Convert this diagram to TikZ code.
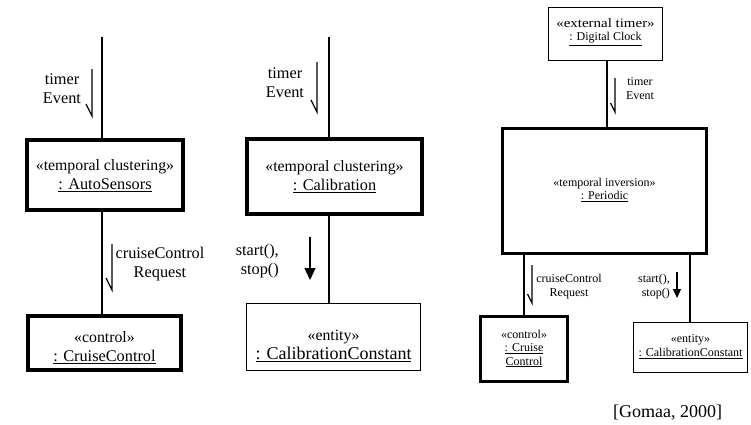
\documentclass[tikz,border=0pt]{standalone}
\usepackage{fontspec}
\usepackage{graphicx}
\setmainfont{Liberation Serif}
\usetikzlibrary{arrows.meta,calc}
\newcommand{\stereo}[1]{{\fontsize{15.8}{19}\selectfont #1}}
\begin{document}
\begin{tikzpicture}[x=1pt,y=-1pt,
  heavybox/.style={draw, line width=3.6pt, inner sep=0pt},
  heavyboxs/.style={draw, line width=3pt, inner sep=0pt},
  lightbox/.style={draw, line width=1.3pt, inner sep=0pt},
  wire/.style={line width=1.3pt},
  msg/.style={line width=1.2pt},
  bigtxt/.style={font=\fontsize{16.3}{19}\selectfont, align=center, inner sep=0pt},
  smalltxt/.style={font=\fontsize{12}{13.5}\selectfont, align=center, inner sep=0pt},
  filledtip/.style={-{Triangle[length=12pt,width=11pt]}},
  filledtips/.style={-{Triangle[length=9pt,width=8pt]}}
]
\useasboundingbox (0,0) rectangle (751,424);

% ---------- left column: temporal clustering -> control ----------
\node[heavybox, minimum width=156, minimum height=70] (auto) at (105,175) {};
\node[bigtxt] (autoT) at (105,176) {\stereo{«temporal clustering»}\\\underline{: AutoSensors}};
\node[heavybox, minimum width=153, minimum height=54] (ctrlL) at (104.5,343) {};
\node[bigtxt] (ctrlLT) at (104.5,348) {\stereo{«control»}\\\underline{: CruiseControl}};
\coordinate (colA) at (102,37);
\draw[wire] (colA) -- (colA |- auto.north);
\draw[wire] (colA |- auto.south) -- (colA |- ctrlL.north);

\node[bigtxt] (evA) at (62,89) {timer\\Event};
\draw[msg] (92,69) -- (92,116) -- ++(-6,-12);
\node[bigtxt] (reqA) at (160,264) {cruiseControl\\Request};
\draw[msg] (112,244) -- (112,290) -- ++(-6,-12);

% ---------- middle column: temporal clustering -> entity ----------
\node[heavybox, minimum width=175, minimum height=75] (calib) at (334.5,176.5) {};
\node[bigtxt] (calibT) at (334.5,177) {\stereo{«temporal clustering»}\\\underline{: Calibration}};
\node[lightbox, minimum width=174, minimum height=67] (entM) at (333.5,337) {};
\node[bigtxt] (entMT) at (333.5,346) {\stereo{«entity»}\\{\fontsize{18}{21}\selectfont\underline{: CalibrationConstant}}};
\coordinate (colB) at (329,37);
\draw[wire] (colB) -- (colB |- calib.north);
\draw[wire] (colB |- calib.south) -- (colB |- entM.north);

\node[bigtxt] (evB) at (285,83) {timer\\Event};
\draw[msg] (317,62) -- (317,112) -- ++(-6,-12);
\node[bigtxt, align=right, anchor=east] (ssB) at (279,261) {start(),\\stop()};
\draw[msg, filledtip] (310,237) -- (310,280);

% ---------- right column: external timer -> temporal inversion ----------
\node[lightbox, minimum width=114, minimum height=53] (clock) at (605.5,34) {};
\node[smalltxt] (clockT) at (605.5,32) {\scalebox{1.15}[1]{\fontsize{13}{14}\selectfont«external timer»}\\\underline{: Digital Clock}};
\node[heavyboxs, minimum width=204, minimum height=125] (period) at (604.5,191) {};
\node[smalltxt] (periodT) at (604.5,190) {«temporal inversion»\\\underline{: Periodic}};
\node[heavyboxs, minimum width=87, minimum height=65] (ctrlR) at (524,349) {};
\node[smalltxt] (ctrlRT) at (524,348.5) {«control»\\\underline{: Cruise}\\\underline{Control}};
\node[lightbox, minimum width=114, minimum height=50] (entR) at (690.5,347.5) {};
\node[smalltxt] (entRT) at (690.5,346.5) {«entity»\\\underline{: CalibrationConstant}};

\coordinate (colC) at (607,0);
\coordinate (colD) at (524,0);
\coordinate (colE) at (690,0);
\draw[wire] (colC |- clock.south) -- (colC |- period.north);
\draw[wire] (colD |- period.south) -- (colD |- ctrlR.north);
\draw[wire] (colE |- period.south) -- (colE |- entR.north);

\node[smalltxt] (evC) at (640,88.5) {timer\\Event};
\draw[msg] (615,78) -- (615,112) -- ++(-4.5,-9);
\node[smalltxt] (reqC) at (569,286.5) {cruiseControl\\Request};
\draw[msg] (532,265) -- (532,303) -- ++(-4.5,-9);
\node[smalltxt, align=right, anchor=east] (ssE) at (670,286.5) {start(),\\stop()};
\draw[msg, filledtips] (677,272) -- (677,298);

% ---------- citation ----------
\node[font=\fontsize{18}{21}\selectfont, inner sep=0pt] (cite) at (667.5,413) {[Gomaa, 2000]};
\end{tikzpicture}
\end{document}
